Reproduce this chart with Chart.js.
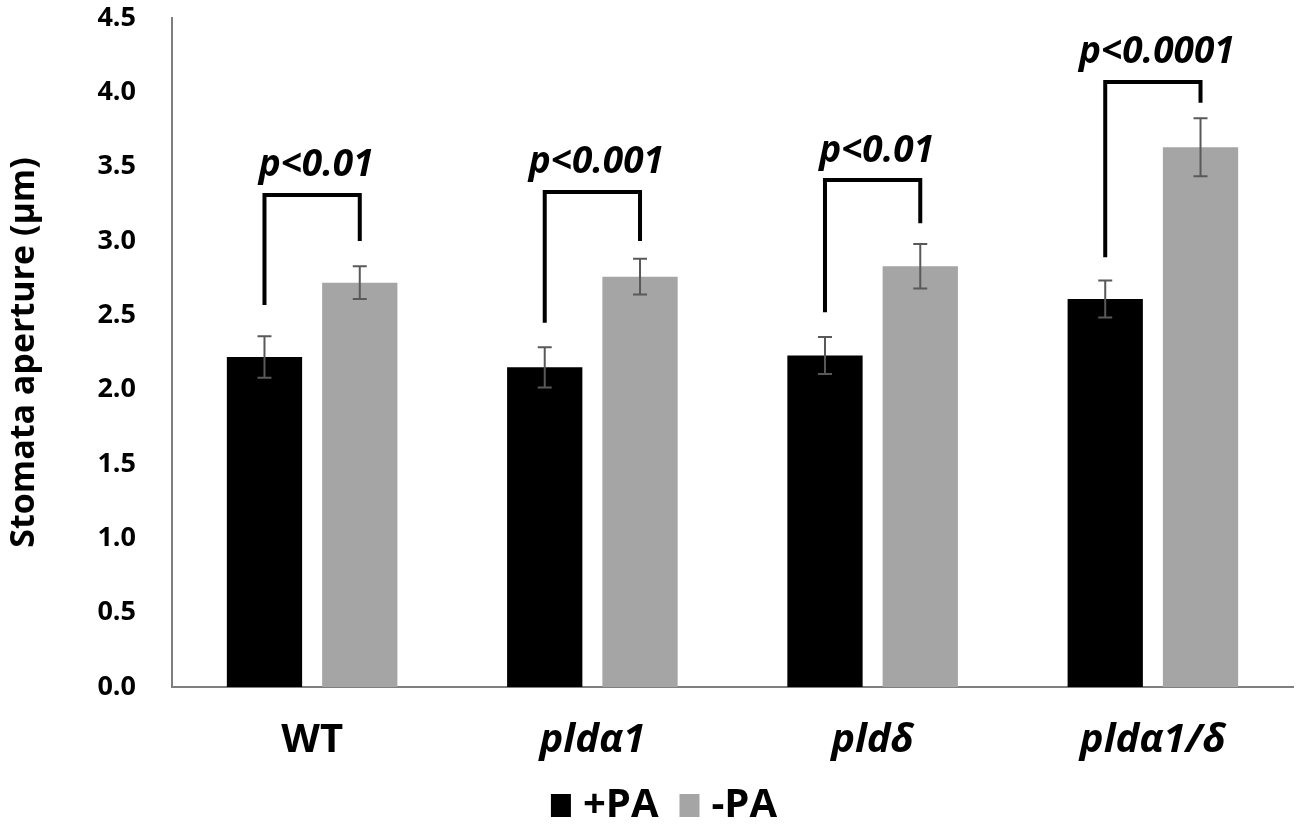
<!DOCTYPE html>
<html>
<head>
<meta charset="utf-8">
<script src="https://cdn.jsdelivr.net/npm/chart.js@4"></script>
<style>
  html, body { margin: 0; padding: 0; background: #fff; }
  #wrap { width: 1299px; height: 826px; }
</style>
</head>
<body>
<div id="wrap"><canvas id="stomata"></canvas></div>
<script>
const genotypes = ['WT', 'pldα1', 'pldδ', 'pldα1/δ'];
const plusPA = [2.22, 2.15, 2.23, 2.61];
const minusPA = [2.72, 2.76, 2.83, 3.63];
const plusErr = [0.14, 0.135, 0.125, 0.125];
const minusErr = [0.11, 0.12, 0.15, 0.195];
const pLabels = ['p<0.01', 'p<0.001', 'p<0.01', 'p<0.0001'];
const bracketTop = [3.31, 3.33, 3.41, 4.07];
const bracketLeft = [2.57, 2.45, 2.52, 2.89];
const bracketRight = [3.00, 3.00, 3.12, 3.93];
const pLabelY = [3.51, 3.53, 3.60, 4.27];
const yTicks = [0, 0.5, 1, 1.5, 2, 2.5, 3, 3.5, 4, 4.5];

const FONT = '"Open Sans", sans-serif';

// error bars, significance brackets and the legend row
const extras = {
    id: 'extras',
    afterDatasetsDraw(chart) {
        const ctx = chart.ctx;
        const y = chart.scales.y;
        const errs = [plusErr, minusErr];
        ctx.save();
        ctx.strokeStyle = '#595959';
        ctx.lineWidth = 2;
        chart.data.datasets.forEach((ds, di) => {
            chart.getDatasetMeta(di).data.forEach((bar, i) => {
                const v = ds.data[i], e = errs[di][i];
                const y1 = y.getPixelForValue(v + e), y2 = y.getPixelForValue(v - e);
                ctx.beginPath();
                ctx.moveTo(bar.x, y1); ctx.lineTo(bar.x, y2);
                ctx.moveTo(bar.x - 7, y1); ctx.lineTo(bar.x + 7, y1);
                ctx.moveTo(bar.x - 7, y2); ctx.lineTo(bar.x + 7, y2);
                ctx.stroke();
            });
        });

        const m0 = chart.getDatasetMeta(0).data, m1 = chart.getDatasetMeta(1).data;
        ctx.strokeStyle = '#000';
        ctx.lineWidth = 4;
        ctx.fillStyle = '#000';
        ctx.font = 'italic bold 37px ' + FONT;
        ctx.textAlign = 'center';
        ctx.textBaseline = 'middle';
        genotypes.forEach((g, i) => {
            const xl = m0[i].x, xr = m1[i].x;
            ctx.beginPath();
            ctx.moveTo(xl, y.getPixelForValue(bracketLeft[i]));
            ctx.lineTo(xl, y.getPixelForValue(bracketTop[i]));
            ctx.lineTo(xr, y.getPixelForValue(bracketTop[i]));
            ctx.lineTo(xr, y.getPixelForValue(bracketRight[i]));
            ctx.stroke();
            ctx.fillText(pLabels[i], (xl + xr) / 2 + 4, y.getPixelForValue(pLabelY[i]));
        });

        // legend, centred under the plot
        ctx.font = 'bold 40px ' + FONT;
        ctx.textAlign = 'left';
        const items = chart.data.datasets;
        let total = 0;
        items.forEach((ds, k) => {
            total += 32 + ctx.measureText(ds.label).width + (k < items.length - 1 ? 21 : 0);
        });
        let lx = 664 - total / 2;
        const ly = 806;
        items.forEach(ds => {
            ctx.fillStyle = ds.backgroundColor;
            ctx.fillRect(lx, ly - 12, 20, 23);
            ctx.fillStyle = '#000';
            ctx.fillText(ds.label, lx + 32, ly);
            lx += 32 + ctx.measureText(ds.label).width + 21;
        });
        ctx.restore();
    }
};

new Chart(document.getElementById('stomata'), {
    type: 'bar',
    data: {
        labels: genotypes,
        datasets: [
            { label: '+PA', data: plusPA, backgroundColor: '#000000', borderWidth: 0 },
            { label: '-PA', data: minusPA, backgroundColor: '#a5a5a5', borderWidth: 0 }
        ]
    },
    options: {
        responsive: true,
        maintainAspectRatio: false,
        animation: false,
        datasets: { bar: { categoryPercentage: 0.68, barPercentage: 0.79 } },
        layout: { padding: { top: 18, right: 6, left: 0, bottom: 0 } },
        scales: {
            x: {
                grid: { display: false, drawTicks: false },
                border: { display: true, color: '#7f7f7f', width: 2 },
                ticks: {
                    padding: 30,
                    color: '#000',
                    font: ctx => ({ family: FONT, size: 40, weight: 'bold', style: ctx.index > 0 ? 'italic' : 'normal' })
                },
                afterFit: s => { s.height = 139; }
            },
            y: {
                min: 0,
                max: 4.5,
                afterBuildTicks: s => { s.ticks = yTicks.map(v => ({ value: v })); },
                grid: { display: false, drawTicks: false },
                border: { display: true, color: '#7f7f7f', width: 2 },
                ticks: {
                    padding: 36,
                    color: '#000',
                    font: { family: FONT, size: 27, weight: 'bold' },
                    callback: v => Number(v).toFixed(1)
                },
                title: {
                    display: true,
                    text: 'Stomata aperture (µm)',
                    color: '#000',
                    font: { family: FONT, size: 34, weight: 'bold' },
                    padding: { top: 4, bottom: 0 }
                },
                afterFit: s => { s.width = 172; s.paddingTop = 0; s.paddingBottom = 0; }
            }
        },
        plugins: {
            legend: { display: false },
            tooltip: { enabled: false }
        }
    },
    plugins: [extras]
});
</script>
</body>
</html>
